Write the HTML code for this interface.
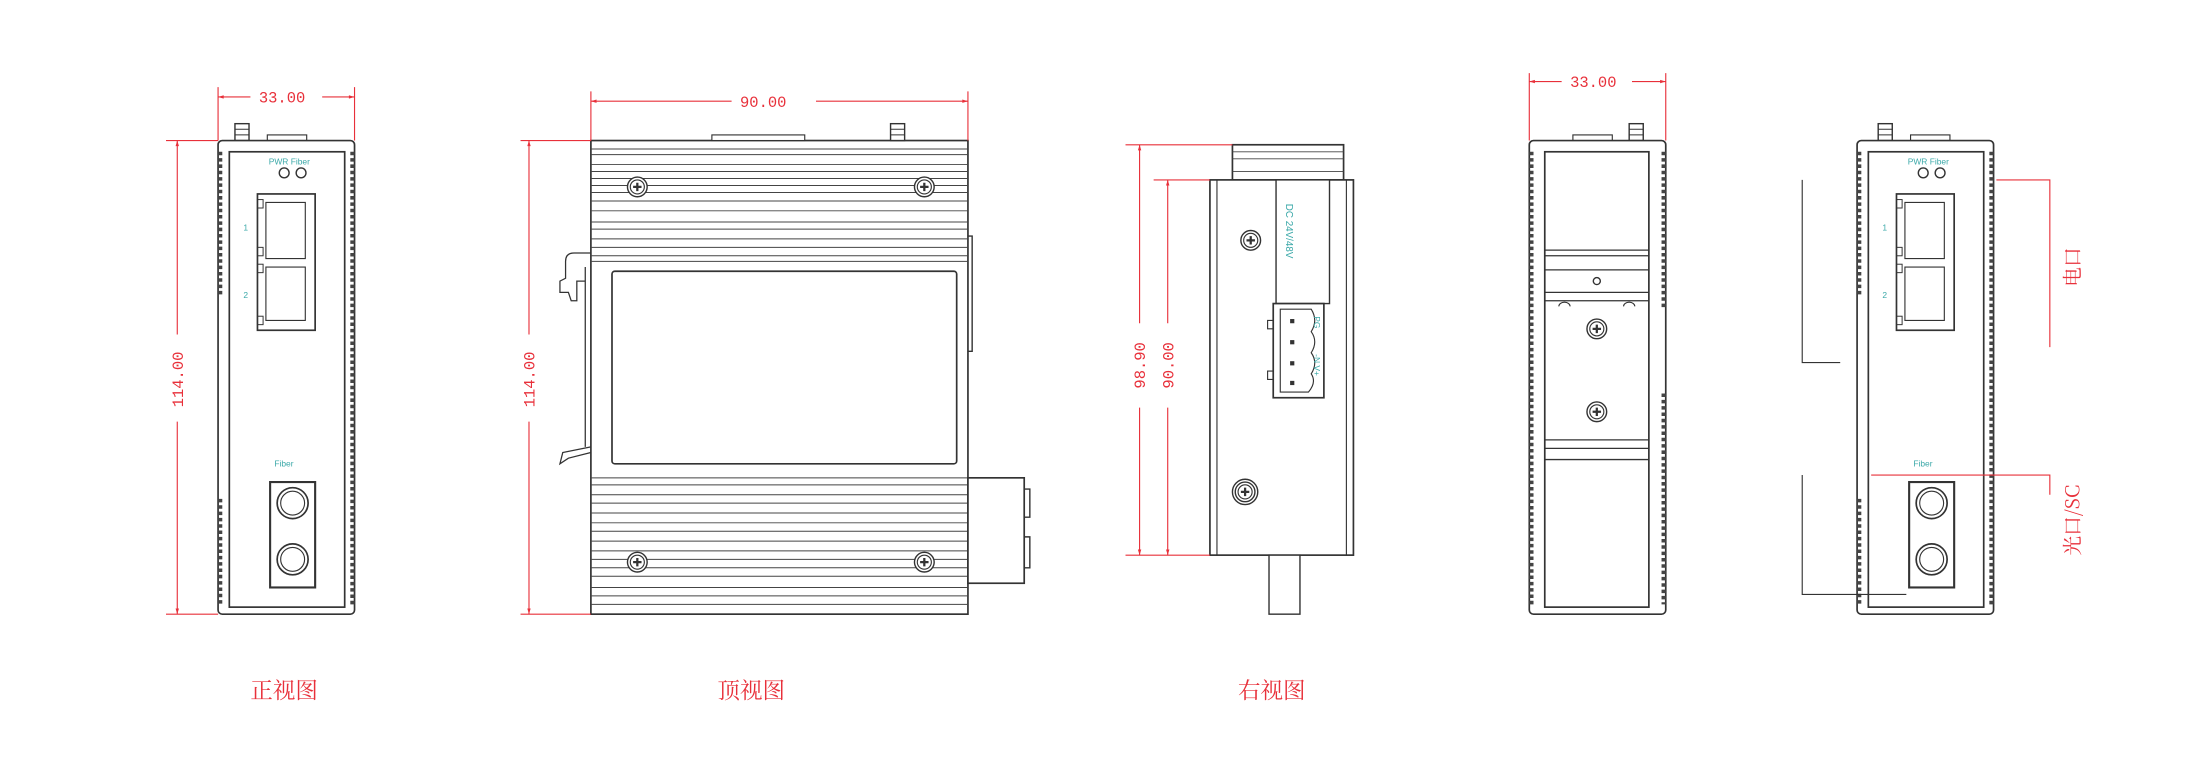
<!DOCTYPE html>
<html><head><meta charset="utf-8"><style>
html,body{margin:0;padding:0;background:#fff;}
svg{display:block;}
text{font-family:"Liberation Sans","Noto Sans CJK SC",sans-serif;}
.d{fill:#e8303a;font-size:11px;font-family:"Liberation Mono",monospace;}
.cn{fill:#e8303a;font-size:16px;font-family:"Noto Serif CJK SC","Noto Sans CJK SC",serif;}
.t{fill:#3aa8a8;font-size:6px;}
</style></head><body>
<svg width="2206" height="780" viewBox="0 0 1568 555" preserveAspectRatio="none" xmlns="http://www.w3.org/2000/svg">
<defs>
<marker id="a" viewBox="0 0 10 10" refX="10" refY="5" markerWidth="7" markerHeight="5" orient="auto-start-reverse"><path d="M0,2 L10,5 L0,8z" fill="#e8303a"/></marker>
<g id="screw"><circle r="7" fill="#fff" stroke="#333" stroke-width="1"/><circle r="5" fill="none" stroke="#333" stroke-width="0.8"/><path d="M-3,0H3M0,-3V3" stroke="#333" stroke-width="1.6"/></g>
<g id="knob"><rect x="-5" y="-12" width="10" height="12" fill="#fff" stroke="#333"/><path d="M-5,-8H5M-5,-4H5" stroke="#333" stroke-width="0.7"/></g>
<g id="front">
  <rect x="0" y="0" width="97" height="337" rx="3" fill="#fff" stroke="#333" stroke-width="1.2"/>
  <line x1="1.5" y1="8" x2="1.5" y2="110" stroke="#444" stroke-width="3" stroke-dasharray="2.5,2"/>
  <line x1="1.5" y1="255" x2="1.5" y2="330" stroke="#444" stroke-width="3" stroke-dasharray="2.5,2"/>
  <line x1="95.5" y1="8" x2="95.5" y2="330" stroke="#444" stroke-width="3" stroke-dasharray="2.5,2"/>
  <rect x="8" y="8" width="82" height="324" fill="none" stroke="#333" stroke-width="1.2"/>
  <text class="t" x="36" y="17">PWR Fiber</text>
  <circle cx="47" cy="23" r="3.5" fill="none" stroke="#333"/><circle cx="59" cy="23" r="3.5" fill="none" stroke="#333"/>
  <rect x="28" y="38" width="41" height="97" fill="none" stroke="#333" stroke-width="1.2"/>
  <path d="M34,44h28v40h-28zM34,90h28v38h-28z" fill="none" stroke="#333" stroke-width="0.8"/>
  <rect x="28" y="42" width="4" height="6" fill="none" stroke="#333" stroke-width="0.7"/><rect x="28" y="76" width="4" height="6" fill="none" stroke="#333" stroke-width="0.7"/>
  <rect x="28" y="88" width="4" height="6" fill="none" stroke="#333" stroke-width="0.7"/><rect x="28" y="125" width="4" height="6" fill="none" stroke="#333" stroke-width="0.7"/>
  <text class="t" x="18" y="64">1</text><text class="t" x="18" y="112">2</text>
  <text class="t" x="40" y="232">Fiber</text>
  <rect x="37" y="243" width="32" height="75" fill="none" stroke="#333" stroke-width="1.5"/>
  <circle cx="53" cy="258" r="11" fill="none" stroke="#333" stroke-width="1.2"/><circle cx="53" cy="258" r="8.5" fill="none" stroke="#333" stroke-width="0.8"/>
  <circle cx="53" cy="298" r="11" fill="none" stroke="#333" stroke-width="1.2"/><circle cx="53" cy="298" r="8.5" fill="none" stroke="#333" stroke-width="0.8"/>
</g>
</defs>

<!-- Front view -->
<use href="#knob" x="172" y="100"/>
<rect x="190" y="96" width="28" height="4" fill="#fff" stroke="#333" stroke-width="0.8"/>
<use href="#front" x="155" y="100"/>
<g stroke="#e8303a" stroke-width="0.8" fill="none">
<path d="M155,62V100M252,62V100M118,100H155M118,437H155"/>
<line x1="155" y1="69" x2="178" y2="69" marker-start="url(#a)"/><line x1="229" y1="69" x2="252" y2="69" marker-end="url(#a)"/>
<line x1="126" y1="100" x2="126" y2="238" marker-start="url(#a)"/><line x1="126" y1="300" x2="126" y2="437" marker-end="url(#a)"/>
</g>
<text class="d" x="184" y="73">33.00</text>
<text class="d" transform="translate(130,270) rotate(-90)" text-anchor="middle">114.00</text>
<text class="cn" x="178" y="497">正视图</text>

<!-- Top view -->
<rect x="420" y="100" width="268" height="337" fill="#fff" stroke="#333" stroke-width="1.2"/>
<rect x="506" y="96" width="66" height="4" fill="#fff" stroke="#333" stroke-width="0.8"/>
<use href="#knob" x="638" y="100"/>
<g stroke="#444" stroke-width="0.7">
<path d="M420,106H688M420,110H688M420,117H688M420,122H688M420,127H688M420,132H688M420,137H688M420,143H688M420,150H688M420,158H688M420,163H688M420,170H688M420,176H688M420,182H688M420,186H688"/>
<path d="M420,340H688M420,345H688M420,352H688M420,358H688M420,365H688M420,372H688M420,378H688M420,385H688M420,392H688M420,398H688M420,404H688M420,410H688M420,418H688M420,424H688M420,430H688"/>
</g>
<rect x="435" y="193" width="245" height="137" rx="2" fill="#fff" stroke="#333" stroke-width="1.2"/>
<use href="#screw" x="453" y="133"/><use href="#screw" x="657" y="133"/><use href="#screw" x="453" y="400"/><use href="#screw" x="657" y="400"/>
<path d="M688,168h3v82h-3" fill="none" stroke="#333"/>
<rect x="688" y="340" width="40" height="75" fill="#fff" stroke="#333" stroke-width="1.2"/>
<path d="M728,348h4v20h-4M728,382h4v22h-4" fill="none" stroke="#333"/>
<path d="M420,318 L400,322 L398,330 L404,326 L420,322 M420,180 L408,180 Q402,180 402,186 L402,198 L398,200 L398,208 L404,208 L406,214 L410,214 L410,200 L416,200 L416,190 M416,200 V318" fill="none" stroke="#333" stroke-width="0.9"/>
<g stroke="#e8303a" stroke-width="0.8" fill="none">
<path d="M420,65V100M688,65V100M370,100H420M370,437H420"/>
<line x1="420" y1="72" x2="520" y2="72" marker-start="url(#a)"/><line x1="580" y1="72" x2="688" y2="72" marker-end="url(#a)"/>
<line x1="376" y1="100" x2="376" y2="238" marker-start="url(#a)"/><line x1="376" y1="300" x2="376" y2="437" marker-end="url(#a)"/>
</g>
<text class="d" x="526" y="76">90.00</text>
<text class="d" transform="translate(380,270) rotate(-90)" text-anchor="middle">114.00</text>
<text class="cn" x="510" y="497">顶视图</text>

<!-- Right view -->
<rect x="876" y="103" width="79" height="25" fill="#fff" stroke="#333" stroke-width="1.2"/>
<path d="M876,108H955M876,113H955M876,122H955" stroke="#444" stroke-width="0.6"/>
<rect x="860" y="128" width="102" height="267" fill="#fff" stroke="#333" stroke-width="1.2"/>
<path d="M865,128V395M957,128V395" stroke="#333" stroke-width="0.8"/>
<rect x="907" y="128" width="38" height="88" fill="#fff" stroke="#333" stroke-width="1"/>
<text class="t" transform="translate(914,145) rotate(90)" style="font-size:7px">DC 24V/48V</text>
<rect x="905" y="216" width="36" height="67" fill="#fff" stroke="#333" stroke-width="1.2"/>
<path d="M910,220V279H930 Q936,272 932,266 Q937,258 932,251 Q937,243 932,236 Q937,228 932,220Z" fill="none" stroke="#333" stroke-width="0.8"/>
<rect x="917" y="227" width="3" height="3" fill="#333"/><rect x="917" y="242" width="3" height="3" fill="#333"/><rect x="917" y="257" width="3" height="3" fill="#333"/><rect x="917" y="271" width="3" height="3" fill="#333"/>
<path d="M905,228h-4v6h4M905,264h-4v6h4" fill="none" stroke="#333" stroke-width="0.8"/>
<text class="t" transform="translate(934,225) rotate(90)">PG</text>
<text class="t" transform="translate(934,252) rotate(90)">-N V+</text>
<use href="#screw" x="889" y="171"/>
<circle cx="885" cy="350" r="9" fill="#fff" stroke="#333"/><use href="#screw" x="885" y="350"/>
<rect x="902" y="395" width="22" height="42" fill="#fff" stroke="#333" stroke-width="1"/>
<g stroke="#e8303a" stroke-width="0.8" fill="none">
<path d="M800,103H876M820,128H860M800,395H860"/>
<line x1="810" y1="103" x2="810" y2="230" marker-start="url(#a)"/><line x1="810" y1="290" x2="810" y2="395" marker-end="url(#a)"/>
<line x1="830" y1="128" x2="830" y2="230" marker-start="url(#a)"/><line x1="830" y1="290" x2="830" y2="395" marker-end="url(#a)"/>
</g>
<text class="d" transform="translate(814,260) rotate(-90)" text-anchor="middle">98.90</text>
<text class="d" transform="translate(834,260) rotate(-90)" text-anchor="middle">90.00</text>
<text class="cn" x="880" y="497">右视图</text>

<!-- Back view -->
<rect x="1118" y="96" width="28" height="4" fill="#fff" stroke="#333" stroke-width="0.8"/>
<use href="#knob" x="1163" y="100"/>
<rect x="1087" y="100" width="97" height="337" rx="3" fill="#fff" stroke="#333" stroke-width="1.2"/>
<line x1="1088.5" y1="108" x2="1088.5" y2="430" stroke="#444" stroke-width="3" stroke-dasharray="2.5,2"/>
<line x1="1182.5" y1="108" x2="1182.5" y2="220" stroke="#444" stroke-width="3" stroke-dasharray="2.5,2"/>
<line x1="1182.5" y1="280" x2="1182.5" y2="430" stroke="#444" stroke-width="3" stroke-dasharray="2.5,2"/>
<rect x="1098" y="108" width="74" height="324" fill="none" stroke="#333" stroke-width="1.2"/>
<path d="M1098,178H1172M1098,182H1172M1098,192H1172M1098,208H1172M1098,214H1172M1098,313H1172M1098,319H1172M1098,327H1172" stroke="#333" stroke-width="0.9"/>
<circle cx="1135" cy="200" r="2.5" fill="none" stroke="#333"/>
<path d="M1108,218a4,3 0 0 1 8,0M1154,218a4,3 0 0 1 8,0" fill="none" stroke="#333" stroke-width="0.8"/>
<use href="#screw" x="1135" y="234"/><use href="#screw" x="1135" y="293"/>
<g stroke="#e8303a" stroke-width="0.8" fill="none">
<path d="M1087,52V100M1184,52V100"/>
<line x1="1087" y1="58" x2="1110" y2="58" marker-start="url(#a)"/><line x1="1160" y1="58" x2="1184" y2="58" marker-end="url(#a)"/>
</g>
<text class="d" x="1116" y="62">33.00</text>

<!-- Right front view -->
<use href="#knob" x="1340" y="100"/>
<rect x="1358" y="96" width="28" height="4" fill="#fff" stroke="#333" stroke-width="0.8"/>
<use href="#front" x="1320" y="100"/>
<g stroke="#e8303a" stroke-width="0.8" fill="none">
<path d="M1419,128H1457V247M1330,338H1457V352"/>
</g>
<g stroke="#333" stroke-width="0.8" fill="none">
<path d="M1281,128V258H1308M1281,338V423H1355"/>
</g>
<text class="cn" transform="translate(1478,190) rotate(-90)" text-anchor="middle" style="font-size:14px">电口</text>
<text class="cn" transform="translate(1478,370) rotate(-90)" text-anchor="middle" style="font-size:14px">光口/SC</text>
</svg>
</body></html>
